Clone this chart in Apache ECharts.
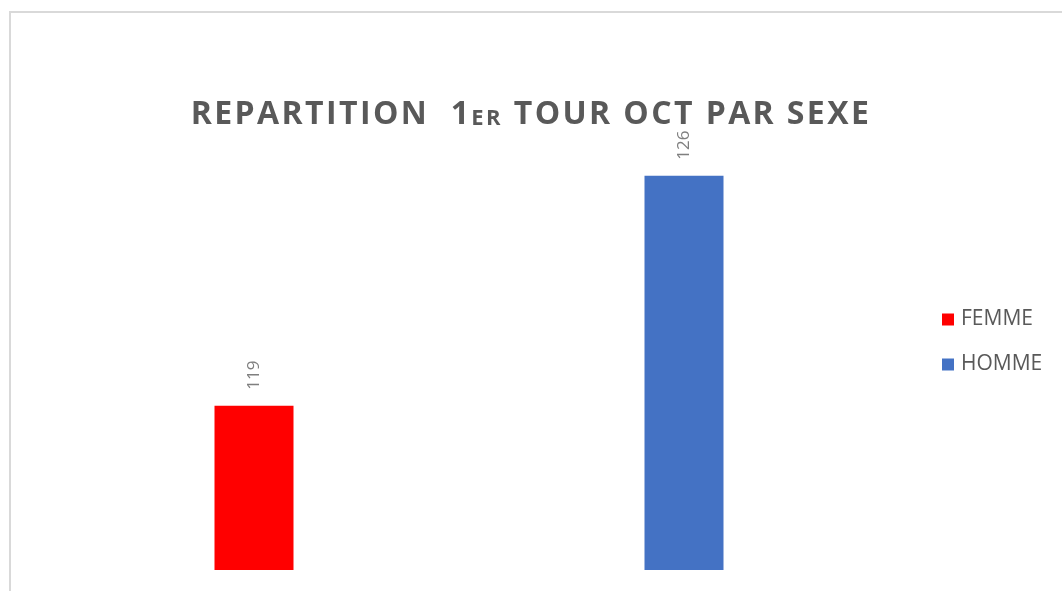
<!DOCTYPE html>
<html>
<head>
<meta charset="utf-8">
<script src="https://cdn.jsdelivr.net/npm/echarts@6/dist/echarts.min.js"></script>
<style>
  html, body { margin: 0; padding: 0; background: #fff; }
  .frame {
    position: absolute; left: 9px; top: 11px;
    width: 1100px; height: 620px;
    border: 2px solid #d9d9d9; box-sizing: border-box;
  }
  #chart { position: absolute; left: 0; top: 0; width: 1062px; height: 591px; }
</style>
</head>
<body>
<div class="frame"></div>
<div id="chart"></div>
<script>
// categories / series
var categories = ["FEMME", "HOMME"];
var femme = [119, null];
var homme = [null, 126];

// title parts (big / small caps / big)
var titleParts = [["a", "REPARTITION  1"], ["b", "ER"], ["a", " TOUR OCT PAR SEXE"]];

// spread letters a bit, like the original title
function spaced(parts) {
  var out = "";
  parts.forEach(function (p) {
    p[1].split("").forEach(function (ch) {
      out += "{" + p[0] + "|" + ch + "}";
    });
  });
  return out;
}

var myChart = echarts.init(document.getElementById("chart"));

var labelOpt = {
  show: true,
  position: "top",
  rotate: 90,
  align: "left",
  verticalAlign: "middle",
  distance: 16,
  color: "#7f7f7f",
  fontSize: 17,
  fontFamily: "Open Sans"
};

var option = {
  animation: false,
  title: {
    text: spaced(titleParts),
    left: "center",
    top: 94,
    textStyle: {
      rich: {
        a: { fontSize: 32, fontWeight: "bold", color: "#595959", fontFamily: "Open Sans", padding: [0, 2.4, 0, 0] },
        b: { fontSize: 22, fontWeight: "bold", color: "#595959", fontFamily: "Open Sans", padding: [8, 2.4, 0, 0] }
      }
    }
  },
  legend: {
    orient: "vertical",
    left: 937,
    top: 304,
    itemWidth: 12,
    itemHeight: 12,
    itemGap: 24,
    icon: "rect",
    textStyle: { color: "#595959", fontSize: 21, fontFamily: "Open Sans", padding: [0, 0, 0, 2] },
    data: categories
  },
  grid: { left: 39, width: 860, top: 110, height: 460 },
  xAxis: {
    type: "category",
    data: categories,
    show: false
  },
  yAxis: {
    type: "value",
    min: 114,
    max: 128,
    show: false
  },
  series: [
    {
      name: "FEMME",
      type: "bar",
      data: femme,
      barWidth: 79,
      barGap: "-100%",
      itemStyle: { color: "#ff0000" },
      label: labelOpt
    },
    {
      name: "HOMME",
      type: "bar",
      data: homme,
      barWidth: 79,
      barGap: "-100%",
      itemStyle: { color: "#4472c4" },
      label: labelOpt
    }
  ]
};
myChart.setOption(option);
</script>
</body>
</html>
